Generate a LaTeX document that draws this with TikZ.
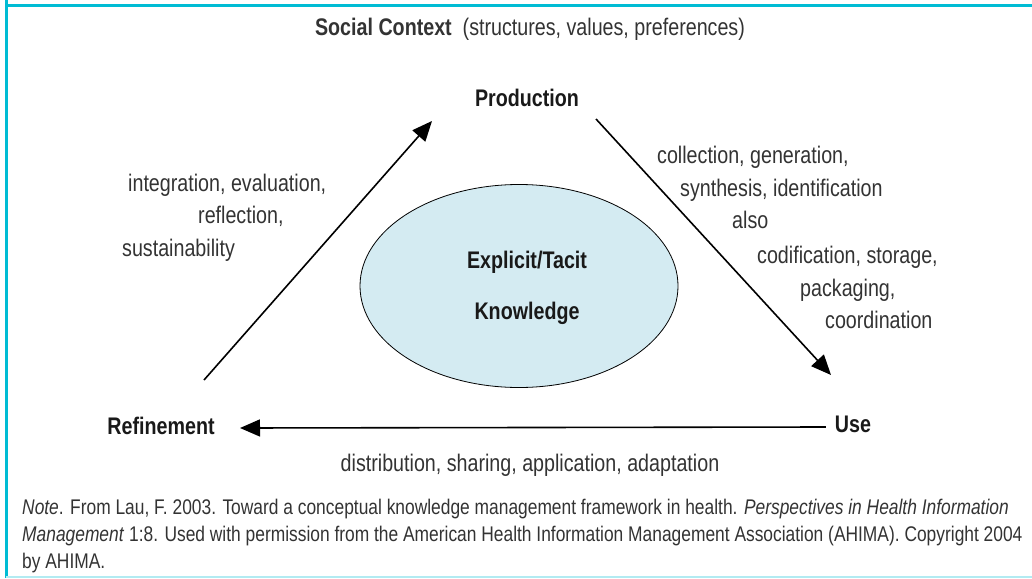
\documentclass[tikz,border=0pt]{standalone}
\usepackage{fontspec}
\setmainfont[FakeStretch=0.82]{Liberation Sans}
\usetikzlibrary{arrows.meta,positioning,shapes.geometric}
\definecolor{rim}{HTML}{00BCD4}
\definecolor{rimpale}{HTML}{B2EBF2}
\definecolor{pool}{HTML}{D4EBF2}
\definecolor{ink}{HTML}{333333}

\begin{document}
\begin{tikzpicture}[x=1pt,y=-1pt,
            words/.style={font=\fontsize{24}{30}\selectfont,text=ink,inner sep=0pt,text height=17pt,text depth=5pt},
            stage/.style={font=\fontsize{24}{30}\selectfont\bfseries,text=black!90,inner sep=0pt,text height=17pt,text depth=5pt},
            note/.style={font=\fontsize{21.2}{27}\selectfont,text=ink,inner sep=0pt,anchor=west,text height=15pt,text depth=4pt},
            flow/.style={line width=1.6pt,-{Triangle[length=20pt,width=17pt]}}]
  \useasboundingbox (0,0) rectangle (1032,578);
  \draw[rim,line width=3pt] (6,0) -- (6,578);
  \draw[rim,line width=3pt] (6,6) -- (1032,6);
  \draw[rimpale,line width=2pt] (6,577) -- (1032,577);
  \node (social) [words] at (530,30) {\textbf{Social Context}\ \ (structures, values, preferences)};
  \node (knowledge) [ellipse,draw,line width=0.8pt,fill=pool,minimum width=318pt,minimum height=203pt] at (519,286) {};
  \node (explicit) [stage] at (527,262) {Explicit/Tacit};
  \node (tacit) [stage] at (527,313) {Knowledge};
  \node (production) [stage] at (527,100) {Production};
  \node (refinement) [stage] at (161,428) {Refinement};
  \node (use) [stage] at (853,426) {Use};
  \coordinate (refout) at (204,380);
  \coordinate (prodin) at (432,121);
  \coordinate (prodout) at (596,119);
  \coordinate (usein) at (831,375);
  \draw[flow] (refout) -- (prodin);
  \draw[flow] (prodout) -- (usein);
  \draw[flow] (use.west) ++(-9,1) coordinate (useout) -- (refinement.east -| 240,0);
  \node (integ) [words,anchor=west] at (128,185) {integration, evaluation,};
  \node (reflect) [words,anchor=west] at (198,217) {reflection,};
  \node (sustain) [words,anchor=west] at (122,250) {sustainability};
  \node (collect) [words,anchor=west] at (657,157) {collection, generation,};
  \node (synth) [words,anchor=west] at (680,190) {synthesis, identification};
  \node (also) [words,anchor=west] at (732,222) {also};
  \node (codif) [words,anchor=west] at (757,257) {codification, storage,};
  \node (pack) [words,anchor=west] at (800,290) {packaging,};
  \node (coord) [words,anchor=west] at (825,322) {coordination};
  \node (distrib) [words] at (530,465) {distribution, sharing, application, adaptation};
  \node (note1) [note] at (22,509) {\textit{Note}. From Lau, F. 2003. Toward a conceptual knowledge management framework in health. \textit{Perspectives in Health Information}};
  \node (note2) [note] at (22,536) {\textit{Management} 1:8. Used with permission from the American Health Information Management Association (AHIMA). Copyright 2004};
  \node (note3) [note] at (22,563) {by AHIMA.};
\end{tikzpicture}
\end{document}
